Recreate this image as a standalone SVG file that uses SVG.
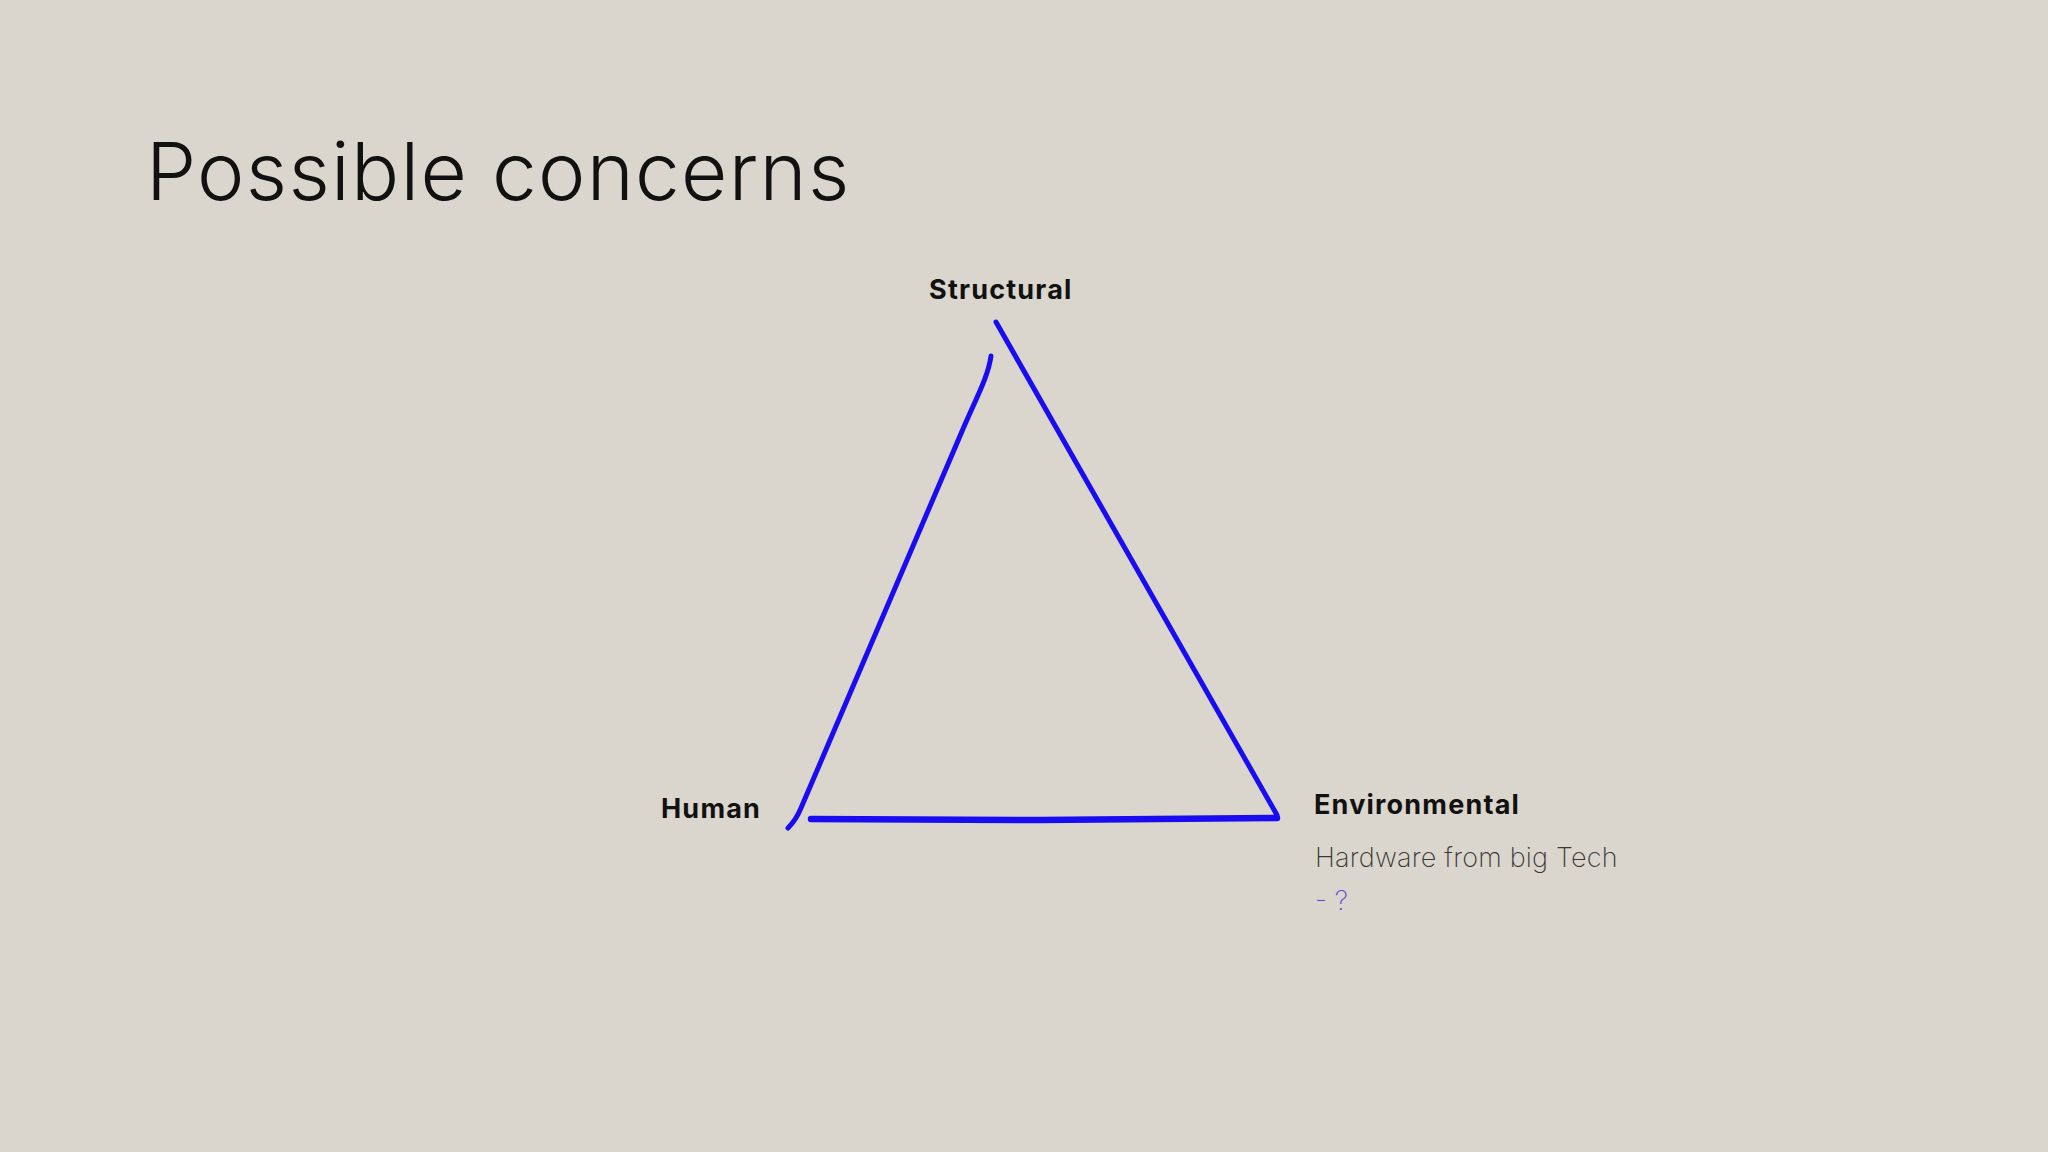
<svg xmlns="http://www.w3.org/2000/svg" width="2048" height="1152" viewBox="0 0 2048 1152">
<style>
.bg{fill:#dad6cd}
.title{font-family:Inter,"Liberation Sans",sans-serif;font-weight:300;font-size:80px;fill:#111;letter-spacing:1.3px}
.lbl{font-family:Inter,"Liberation Sans",sans-serif;font-weight:700;font-size:27px;fill:#111;letter-spacing:1.2px}
.note{font-family:Inter,"Liberation Sans",sans-serif;font-weight:200;font-size:27px;fill:#3a3835;letter-spacing:0.2px}
.q{font-family:Inter,"Liberation Sans",sans-serif;font-weight:200;font-size:27px;fill:#5b4bd8}
.edge{fill:none;stroke:#1a0cf0;stroke-linecap:round;stroke-linejoin:round}
</style>
<rect class="bg" x="0" y="0" width="2048" height="1152"/>
<text class="title" x="146" y="200">Possible concerns</text>
<g id="connectors">
<path class="edge" stroke-width="5" d="M996,322 L1277,815"/>
<path class="edge" stroke-width="5" d="M991,356 C988,378 975,400 960,436 L801,808 Q796,820 788,828"/>
<path class="edge" stroke-width="6.5" d="M811,819 L1040,820 L1277,818"/>
</g>
<g id="structural"><text class="lbl" x="929" y="299">Structural</text></g>
<g id="human"><text class="lbl" x="661" y="818">Human</text></g>
<g id="environmental">
<text class="lbl" x="1314" y="814">Environmental</text>
<text class="note" x="1315" y="867">Hardware from big Tech</text>
<text class="q" x="1315" y="910">- ?</text>
</g>
</svg>
